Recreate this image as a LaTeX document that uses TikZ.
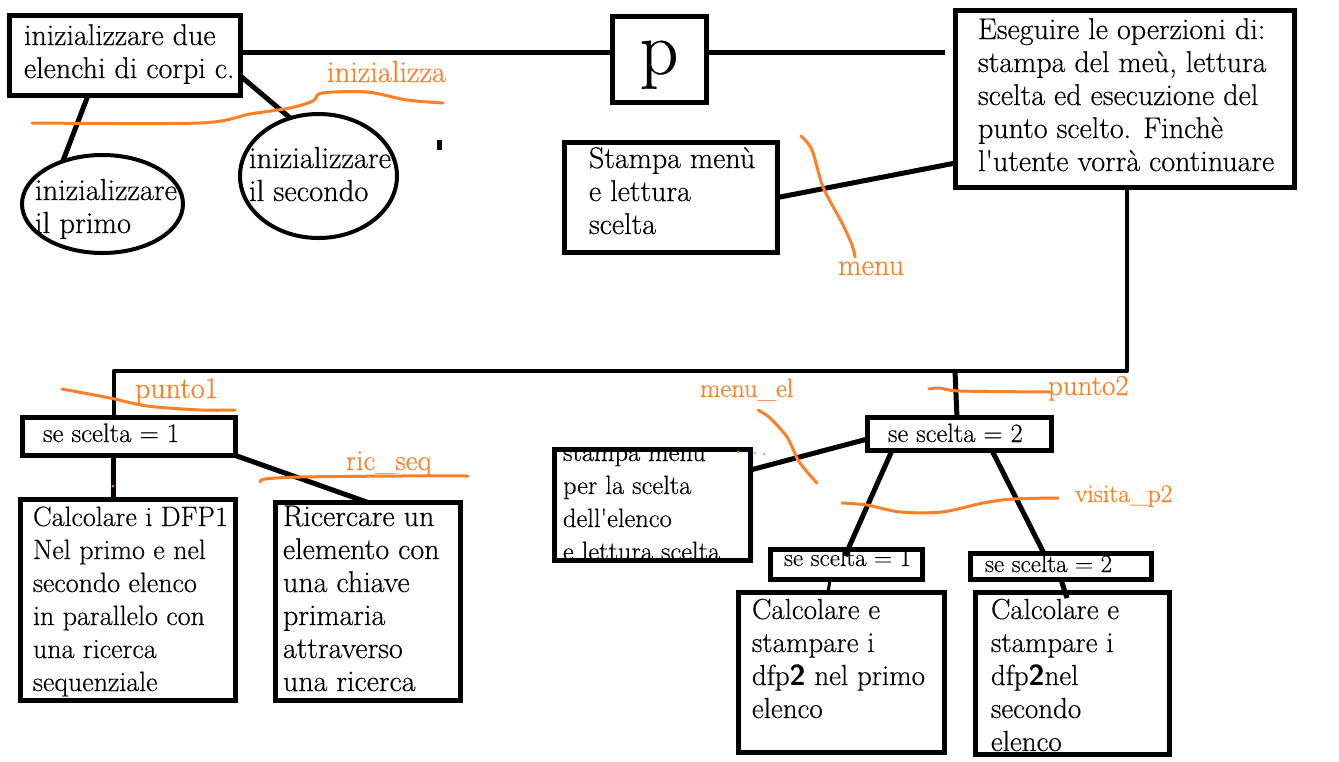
\documentclass[tikz,border=0pt]{standalone}
\usepackage{fontspec}
\setmainfont{Latin Modern Roman}[FakeBold=0.4]
\usetikzlibrary{shapes.geometric,calc}
\definecolor{orng}{RGB}{255,127,39}
\newcommand{\fs}[1]{\fontsize{#1}{33}\selectfont}
\begin{document}
\begin{tikzpicture}[x=1pt,y=-1pt,
  box/.style={draw, line width=5.5pt, inner sep=0pt, outer sep=0pt},
  ell/.style={draw, ellipse, line width=4pt, inner sep=0pt, outer sep=0pt},
  conn/.style={line width=5pt, line join=round},
  txt/.style={anchor=north west, inner sep=0pt, outer sep=0pt, align=left},
  lbl/.style={anchor=base west, inner sep=0pt, outer sep=0pt, text=orng},
  squig/.style={draw=orng, line width=3pt, line cap=round, line join=round}]
\useasboundingbox[fill=white] (0,0) rectangle (1339,761);

% ---------- texts ----------
\node[txt, font=\fs{30}] (tA) at (24,21.9) {\strut inizializzare due\\elenchi di corpi c.};
\node[txt, font=\fs{30.5}] (tE1) at (35,176.9) {\strut inizializzare\\il primo};
\node[txt, font=\fs{30.5}] (tE2) at (249,144.9) {\strut inizializzare\\il secondo};
\node[txt, font=\fs{30}] (tEs) at (978,15.9) {\strut Eseguire le operzioni di:\\stampa del meù, lettura\\scelta ed esecuzione del\\punto scelto. Finchè\\l\textquotesingle utente vorrà continuare};
\node[txt, font=\fs{30}] (tSt) at (589,144.9) {\strut Stampa menù\\e lettura\\scelta};
\node[txt, font=\fs{26.8}] (tse1) at (43,418.9) {\strut se scelta = 1};
\node[txt, font=\fs{28}] (tc1) at (33,502.9) {\strut Calcolare i DFP1\\Nel primo e nel\\secondo elenco\\in parallelo con\\una ricerca\\sequenziale};
\node[txt, font=\fs{30}] (tric) at (283,502.9) {\strut Ricercare un\\elemento con\\una chiave\\primaria\\attraverso\\una ricerca};
\node[txt, font=\fs{26.5}] (tse2) at (888,418.9) {\strut se scelta = 2};
\begin{scope}
  \clip (552,447) rectangle (753,563);
  \node[txt, font=\fs{26.5}] (tmel) at (563,437.9) {\strut stampa menù\\per la scelta\\dell\textquotesingle elenco\\e lettura scelta};
\end{scope}
\node[txt, font=\fs{25}] (ts1) at (784,542.9) {\strut se scelta = 1};
\node[txt, font=\fs{25}] (ts2) at (985,548.9) {\strut se scelta = 2};
\node[txt, font=\fs{29}] (tcA) at (752,595.9) {\strut Calcolare e\\stampare i\\dfp{\bfseries\sffamily 2} nel primo\\elenco};
\node[txt, font=\fs{29}] (tcB) at (991,595.9) {\strut Calcolare e\\stampare i\\dfp{\bfseries\sffamily 2}nel\\secondo\\elenco};
\node[anchor=base, inner sep=0pt, font=\fontsize{76}{76}\selectfont] (tp) at (659,74) {p};

% ---------- boxes ----------
\node[box, minimum width=231pt, minimum height=80pt] (A) at (125,55.5) {};
\node[ell, minimum width=161pt, minimum height=98pt] (E1) at (102.5,204) {};
\node[ell, minimum width=157pt, minimum height=124pt] (E2) at (318.5,176) {};
\node[box, minimum width=94pt, minimum height=86pt] (p) at (659.5,59.5) {};
\node[box, minimum width=339pt, minimum height=177pt] (Es) at (1125,99) {};
\node[box, minimum width=213pt, minimum height=110pt] (St) at (671,197.5) {};
\node[box, minimum width=213pt, minimum height=38pt] (se1) at (129,436.5) {};
\node[box, minimum width=215pt, minimum height=201pt] (calc1) at (128,600) {};
\node[box, minimum width=185pt, minimum height=198pt] (ric) at (368,601.5) {};
\node[box, minimum width=184pt, minimum height=33pt] (se2) at (959.5,434) {};
\node[box, minimum width=196pt, minimum height=111pt] (menuel) at (652.5,505) {};
\node[box, minimum width=152pt, minimum height=30pt] (s1) at (846.5,564.5) {};
\node[box, minimum width=181pt, minimum height=26pt] (s2) at (1061,566.5) {};
\node[box, minimum width=206pt, minimum height=160pt] (calcA) at (841.5,672.5) {};
\node[box, minimum width=194pt, minimum height=162pt] (calcB) at (1072.5,673.5) {};

% ---------- connectors ----------
\coordinate (busR) at (1127,371);
\coordinate (busL) at (114,371);
\coordinate (busM) at (955,371);
\coordinate (tk1) at (439,140);
\coordinate (tk2) at (439,150);
\draw[conn] ([xshift=-37pt]A.south) -- (E1.133);
\draw[conn] ([yshift=-20.5pt]A.east) -- (E2.116);
\draw[conn] ([yshift=3.5pt]A.east) -- ([yshift=7.5pt]p.west);
\draw[conn] ([yshift=7.5pt]p.east) -- ([xshift=-10.5pt,yshift=47pt]Es.west);
\draw[conn] (St.east) -- ([yshift=-64pt]Es.west);
\draw[conn, line width=4.5pt] ([xshift=2pt]Es.south) -- (busR) -- (busL) -- ([xshift=-15pt]se1.north);
\draw[conn] (busM) -- ([xshift=-2.5pt]se2.north);
\draw[conn] ([xshift=-16pt]se1.south) -- ([xshift=-15pt]calc1.north);
\draw[conn] (se1.south east) -- (ric.north);
\draw[conn] ([yshift=35pt]menuel.east) -- ([yshift=-5pt]se2.west);
\draw[conn] ([xshift=-67.5pt]se2.south) -- ([xshift=-1.5pt,yshift=8.5pt]s1.center);
\draw[conn] ([xshift=32.5pt]se2.south) -- ([xshift=-17pt]s2.north);
\draw[conn] (s2.south) -- ([xshift=-5.5pt,yshift=-5.5pt]calcB.north);
\draw[conn, line width=3pt] ([xshift=-16.5pt]s1.south) -- ([xshift=-13.5pt]calcA.north);
\draw[conn] (tk1) -- (tk2);

% ---------- orange annotations ----------
\draw[squig] plot[smooth, tension=0.5] coordinates {(32,123) (200,123) (250,114) (290,108) (313,101) (322,93) (367,92) (407,100) (443,103)};
\node[lbl, font=\fs{30.5}] (linit) at (327,82) {inizializza};
\draw[squig] plot[smooth, tension=0.5] coordinates {(801,136) (812,150) (823,187) (842,223) (852,245) (855,257)};
\node[lbl, font=\fs{30.5}] (lmenu) at (838,275) {menu};
\draw[squig] plot[smooth, tension=0.5] coordinates {(62,389) (110,398) (147,406) (200,410) (235,410)};
\node[lbl, font=\fs{30}] (lp1) at (135,398) {punto1};
\draw[squig] plot[smooth, tension=0.5] coordinates {(260,482) (265,479) (300,477) (400,476) (468,476)};
\node[lbl, font=\fs{29}] (lric) at (346,470) {ric\_seq};
\draw[squig] plot[smooth, tension=0.5] coordinates {(929,389) (940,388) (960,391) (1050,392)};
\node[lbl, font=\fs{29}] (lp2) at (1048,395) {punto2};
\draw[squig] plot[smooth, tension=0.5] coordinates {(758,410) (770,418) (787,437) (798,460) (808,473) (817,483)};
\node[lbl, font=\fs{26.5}] (lmel) at (700,397) {menu\_el};
\draw[squig] plot[smooth, tension=0.5] coordinates {(842,503) (867,505) (900,512) (942,512) (983,503) (1013,499) (1058,498)};
\node[lbl, font=\fs{25.5}] (lvis) at (1075,502) {visita\_p2};
\fill[orng] (738,452) circle (1.5pt);
\fill[orng] (755,453) circle (1.2pt);
\fill[orng] (764,454) circle (1.2pt);
\fill[orng] (113,486) circle (1.5pt);
\end{tikzpicture}
\end{document}
